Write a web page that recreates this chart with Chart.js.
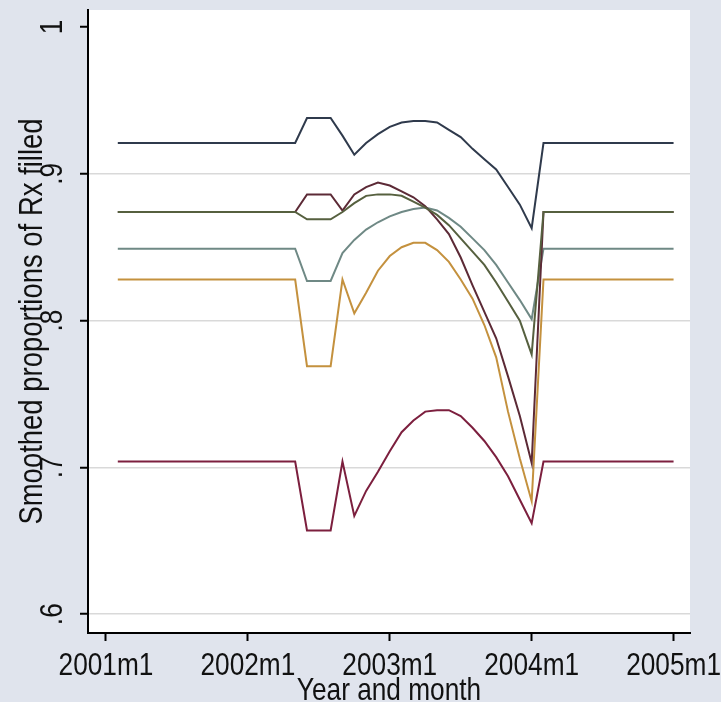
<!DOCTYPE html>
<html>
<head>
<meta charset="utf-8">
<script src="https://cdn.jsdelivr.net/npm/chart.js@4.4.1/dist/chart.umd.min.js"></script>
<style>
    html, body { margin: 0; padding: 0; background: #e0e4ed; }
    canvas { display: block; }
</style>
</head>
<body>
<canvas id="rxChart" width="721" height="702"></canvas>
<script>
// ========================================
// DATA - months since 2001m1, smoothed proportions
// ========================================
const months = [
    1, 2, 3, 4, 5, 6, 7, 8, 9, 10, 11, 12,
    13, 14, 15, 16, 17, 18, 19, 20, 21, 22, 23, 24,
    25, 26, 27, 28, 29, 30, 31, 32, 33, 34, 35, 36,
    37, 38, 39, 40, 41, 42, 43, 44, 45, 46, 47, 48
];

const navySeries = [
    0.921, 0.921, 0.921, 0.921, 0.921, 0.921, 0.921, 0.921, 0.921, 0.921, 0.921, 0.921,
    0.921, 0.921, 0.921, 0.921, 0.938, 0.938, 0.938, 0.926, 0.913, 0.921, 0.927, 0.932,
    0.935, 0.936, 0.936, 0.935, 0.930, 0.925, 0.917, 0.910, 0.903, 0.891, 0.879, 0.863,
    0.921, 0.921, 0.921, 0.921, 0.921, 0.921, 0.921, 0.921, 0.921, 0.921, 0.921, 0.921
];

const oliveSeries = [
    0.874, 0.874, 0.874, 0.874, 0.874, 0.874, 0.874, 0.874, 0.874, 0.874, 0.874, 0.874,
    0.874, 0.874, 0.874, 0.874, 0.869, 0.869, 0.869, 0.874, 0.880, 0.885, 0.886, 0.886,
    0.885, 0.881, 0.877, 0.872, 0.865, 0.856, 0.847, 0.838, 0.826, 0.813, 0.800, 0.777,
    0.874, 0.874, 0.874, 0.874, 0.874, 0.874, 0.874, 0.874, 0.874, 0.874, 0.874, 0.874
];

const brownSeries = [
    0.874, 0.874, 0.874, 0.874, 0.874, 0.874, 0.874, 0.874, 0.874, 0.874, 0.874, 0.874,
    0.874, 0.874, 0.874, 0.874, 0.886, 0.886, 0.886, 0.875, 0.886, 0.891, 0.894, 0.892,
    0.888, 0.884, 0.878, 0.869, 0.859, 0.843, 0.824, 0.806, 0.788, 0.762, 0.735, 0.703,
    0.874, 0.874, 0.874, 0.874, 0.874, 0.874, 0.874, 0.874, 0.874, 0.874, 0.874, 0.874
];

const tealSeries = [
    0.849, 0.849, 0.849, 0.849, 0.849, 0.849, 0.849, 0.849, 0.849, 0.849, 0.849, 0.849,
    0.849, 0.849, 0.849, 0.849, 0.827, 0.827, 0.827, 0.846, 0.855, 0.862, 0.867, 0.871,
    0.874, 0.876, 0.877, 0.875, 0.870, 0.864, 0.856, 0.848, 0.838, 0.826, 0.814, 0.801,
    0.849, 0.849, 0.849, 0.849, 0.849, 0.849, 0.849, 0.849, 0.849, 0.849, 0.849, 0.849
];

const orangeSeries = [
    0.828, 0.828, 0.828, 0.828, 0.828, 0.828, 0.828, 0.828, 0.828, 0.828, 0.828, 0.828,
    0.828, 0.828, 0.828, 0.828, 0.769, 0.769, 0.769, 0.828, 0.805, 0.819, 0.834, 0.844,
    0.850, 0.853, 0.853, 0.848, 0.840, 0.828, 0.815, 0.797, 0.775, 0.738, 0.706, 0.677,
    0.828, 0.828, 0.828, 0.828, 0.828, 0.828, 0.828, 0.828, 0.828, 0.828, 0.828, 0.828
];

const crimsonSeries = [
    0.704, 0.704, 0.704, 0.704, 0.704, 0.704, 0.704, 0.704, 0.704, 0.704, 0.704, 0.704,
    0.704, 0.704, 0.704, 0.704, 0.657, 0.657, 0.657, 0.704, 0.667, 0.684, 0.697, 0.711,
    0.724, 0.732, 0.738, 0.739, 0.739, 0.735, 0.727, 0.718, 0.707, 0.694, 0.678, 0.662,
    0.704, 0.704, 0.704, 0.704, 0.704, 0.704, 0.704, 0.704, 0.704, 0.704, 0.704, 0.704
];

const xTicks = [0, 12, 24, 36, 48];
const xTickLabels = ['2001m1', '2002m1', '2003m1', '2004m1', '2005m1'];
const yTicks = [0.6, 0.7, 0.8, 0.9, 1];
const yTickLabels = ['.6', '.7', '.8', '.9', '1'];

// ========================================
// STYLE
// ========================================
const FONT = "'Liberation Sans', Arial, sans-serif";
const NARROW = 0.82;   // no narrow face installed, squeeze text like Arial Narrow
const PAGE_BG = '#e0e4ed';

const toPoints = values => values.map((v, i) => ({ x: months[i], y: v }));

const series = [
    { name: 'navy', values: navySeries, color: '#2f3a4c' },
    { name: 'olive', values: oliveSeries, color: '#56603f' },
    { name: 'brown', values: brownSeries, color: '#5c2a36' },
    { name: 'teal', values: tealSeries, color: '#6f8985' },
    { name: 'orange', values: orangeSeries, color: '#c4913e' },
    { name: 'crimson', values: crimsonSeries, color: '#7c1f3e' }
];

// page + plot region backgrounds (Stata style)
const backgroundPlugin = {
    id: 'stataBackground',
    beforeDraw(chart) {
        const { ctx, chartArea } = chart;
        ctx.save();
        ctx.fillStyle = PAGE_BG;
        ctx.fillRect(0, 0, chart.width, chart.height);
        ctx.fillStyle = '#ffffff';
        ctx.fillRect(chartArea.left, chartArea.top, chartArea.right - chartArea.left, chartArea.bottom - chartArea.top);
        ctx.restore();
    }
};

// condensed text: use fillText's maxWidth to squeeze every label
const narrowTextPlugin = {
    id: 'narrowText',
    beforeInit(chart) {
        const c = chart.ctx;
        const fill = c.fillText.bind(c);
        c.fillText = (text, x, y, maxWidth) => {
            const w = c.measureText(text).width * NARROW;
            fill(text, x, y, maxWidth === undefined ? w : Math.min(maxWidth, w));
        };
    }
};

// keep the plot region where the reference has it
const noEdgePadding = scale => {
    scale.paddingTop = 0;
    scale.paddingBottom = 0;
    scale.paddingLeft = 0;
    scale.paddingRight = 0;
};

const ctx = document.getElementById('rxChart').getContext('2d');

new Chart(ctx, {
    type: 'line',
    data: {
        datasets: series.map(s => ({
            label: s.name,
            data: toPoints(s.values),
            borderColor: s.color,
            borderWidth: 2,
            pointRadius: 0,
            tension: 0,
            fill: false
        }))
    },
    options: {
        responsive: false,
        animation: false,
        devicePixelRatio: 1,
        layout: { padding: { top: 10, right: 31, left: 0, bottom: 0 } },
        plugins: {
            legend: { display: false },
            tooltip: { enabled: false }
        },
        scales: {
            x: {
                type: 'linear',
                min: -1.52,
                max: 49.39,
                afterBuildTicks: scale => { scale.ticks = xTicks.map(v => ({ value: v })); },
                afterFit: scale => { scale.height = 69; noEdgePadding(scale); },
                grid: {
                    drawOnChartArea: false,
                    drawTicks: true,
                    tickLength: 8,
                    tickColor: '#000000',
                    tickWidth: 2
                },
                border: { display: true, color: '#000000', width: 2 },
                ticks: {
                    autoSkip: false,
                    maxRotation: 0,
                    minRotation: 0,
                    padding: 9,
                    color: '#111111',
                    font: { family: FONT, size: 32, lineHeight: 1 },
                    callback: value => xTickLabels[xTicks.indexOf(value)]
                },
                title: {
                    display: true,
                    text: 'Year and month',
                    color: '#111111',
                    font: { family: FONT, size: 32, lineHeight: 1 },
                    padding: { top: 0, bottom: -5 }
                }
            },
            y: {
                type: 'linear',
                min: 0.5872,
                max: 1.0116,
                afterBuildTicks: scale => { scale.ticks = yTicks.map(v => ({ value: v })); },
                afterFit: scale => { scale.width = 88; noEdgePadding(scale); },
                grid: {
                    color: c => (c.tick && c.tick.value === 1 ? 'rgba(0,0,0,0)' : '#d9d9d9'),
                    lineWidth: 1.5,
                    drawTicks: true,
                    tickLength: 8,
                    tickColor: '#000000',
                    tickWidth: 2
                },
                border: { display: true, color: '#000000', width: 2 },
                ticks: {
                    autoSkip: false,
                    minRotation: 90,
                    maxRotation: 90,
                    crossAlign: 'center',
                    padding: 13,
                    color: '#111111',
                    font: { family: FONT, size: 32, lineHeight: 1 },
                    callback: value => yTickLabels[yTicks.indexOf(value)]
                },
                title: {
                    display: true,
                    text: 'Smoothed proportions of Rx filled',
                    color: '#111111',
                    font: { family: FONT, size: 33.5, lineHeight: 1 },
                    padding: { top: 16, bottom: 0 }
                }
            }
        }
    },
    plugins: [narrowTextPlugin, backgroundPlugin]
});
</script>
</body>
</html>
